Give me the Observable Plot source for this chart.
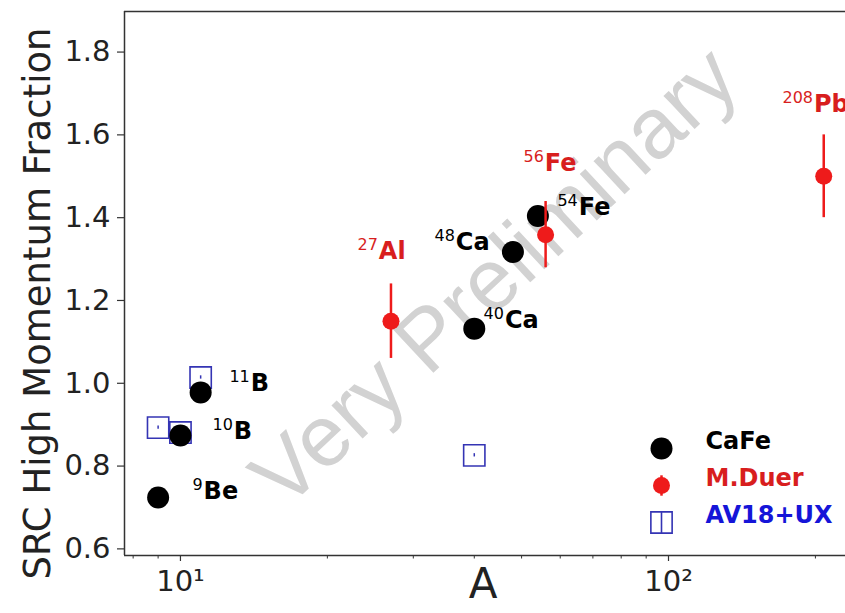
<!DOCTYPE html>
<html>
<head>
<meta charset="utf-8">
<script src="https://cdn.jsdelivr.net/npm/d3@7"></script>
<script src="https://cdn.jsdelivr.net/npm/@observablehq/plot@0.6"></script>
<style>
  html, body { margin: 0; padding: 0; background: #fff; overflow: hidden; }
  #chart svg { display: block; }
</style>
</head>
<body>
<div id="chart"></div>
<script>
// ---- data ----
const cafeA = [9, 10, 11, 40, 48, 54];
const cafeY = [0.724, 0.874, 0.978, 1.132, 1.317, 1.404];

const duerA = [27, 56, 208];
const duerY = [1.150, 1.359, 1.500];
const duerErr = [0.09, 0.08, 0.10];

const av18A = [9, 10, 11, 40];
const av18Y = [0.893, 0.881, 1.014, 0.826];
const av18Err = [0.004, 0.004, 0.004, 0.004];

const labelMass = ["9", "10", "11", "40", "48", "54", "27", "56", "208"];
const labelElem = ["Be", "B", "B", "Ca", "Ca", "Fe", "Al", "Fe", "Pb"];
const labelSeries = ["CaFe", "CaFe", "CaFe", "CaFe", "CaFe", "CaFe", "M.Duer", "M.Duer", "M.Duer"];
const labelA = [10.58, 11.63, 12.60, 41.8, 33.15, 59.2, 23.05, 50.45, 171.2];
const labelY = [0.7215, 0.8665, 0.9825, 1.1347, 1.3208, 1.4054, 1.299, 1.5117, 1.6543];

const xDomain = [7.68, 230.5];
const yDomain = [0.584, 1.898];
const yTicks = [0.6, 0.8, 1.0, 1.2, 1.4, 1.6, 1.8];
const xMajorTicks = [10, 100];
const xMajorLabels = ["10¹", "10²"];
const xMinorTicks = [8, 9, 20, 30, 40, 50, 60, 70, 80, 90, 200];

const legendNames = ["CaFe", "M.Duer", "AV18+UX"];
const yTitle = "SRC High Momentum Fraction";
const xTitle = "A";
const watermark = "Very Preliminary";

// ---- tables ----
const cafe = cafeA.map((a, i) => ({A: a, y: cafeY[i]}));
const duer = duerA.map((a, i) => ({A: a, y: duerY[i], err: duerErr[i]}));
const av18 = av18A.map((a, i) => ({A: a, y: av18Y[i], err: av18Err[i]}));
const labels = labelA.map((a, i) => ({A: a, y: labelY[i], text: labelMass[i] + "|" + labelElem[i], series: labelSeries[i]}));

const BLACK = "#000000", RED = "#ee1b1b", RED_TXT = "#d81e1e", BLUE = "#3434b4", BLUE_TXT = "#1515d8", AXIS = "#333333";
const vbar = {draw(ctx, size) { const h = Math.sqrt(size); ctx.moveTo(0, -h / 2); ctx.lineTo(0, h / 2); }};

const chart = Plot.plot({
  width: 845,
  height: 613,
  marginLeft: 124,
  marginRight: 0,
  marginTop: 11,
  marginBottom: 58,
  style: {fontFamily: "'DejaVu Sans', sans-serif", background: "#fff", overflow: "visible"},
  x: {type: "log", domain: xDomain},
  y: {domain: yDomain},
  marks: [
    // watermark
    Plot.text([watermark], {frameAnchor: "middle", textAnchor: "middle", text: d => d, rotate: -43, dx: 10, dy: -6,
      fontSize: 86, fill: "#d2d2d2", fontFamily: "'Liberation Sans', Arial, sans-serif"}),
    // spines
    Plot.ruleY([yDomain[1]], {stroke: AXIS, strokeWidth: 1.5}),
    Plot.ruleY([yDomain[0]], {stroke: AXIS, strokeWidth: 1.5}),
    Plot.ruleX([xDomain[0]], {stroke: AXIS, strokeWidth: 1.5}),
    // axes
    Plot.axisY({ticks: yTicks, tickFormat: d => d.toFixed(1), tickSize: 7, tickPadding: 7, fontSize: 29, label: null, stroke: AXIS, fill: "#222", strokeWidth: 1.2}),
    Plot.axisX({ticks: xMajorTicks, tickFormat: d => xMajorLabels[xMajorTicks.indexOf(d)], tickSize: 6, tickPadding: 9, fontSize: 29, label: null, stroke: AXIS, fill: "#222", strokeWidth: 1.2}),
    Plot.axisX({ticks: xMinorTicks, tickFormat: () => "", tickSize: 3.5, label: null, stroke: AXIS, strokeWidth: 1}),
    Plot.text([yTitle], {frameAnchor: "left", textAnchor: "middle", text: d => d, rotate: -90, dx: -86, dy: 20, fontSize: 37, fill: "#222"}),
    Plot.text([xTitle], {frameAnchor: "bottom", textAnchor: "middle", text: d => d, dx: -2, dy: 42, fontSize: 42, fill: "#222"}),
    // AV18+UX
    Plot.dot(av18, {x: "A", y: "y", symbol: "square", r: 12, stroke: BLUE, strokeWidth: 1.6, fill: "none"}),
    Plot.ruleX(av18, {x: "A", y1: d => d.y - d.err, y2: d => d.y + d.err, stroke: BLUE, strokeWidth: 1.5}),
    // CaFe
    Plot.dot(cafe, {x: "A", y: "y", r: 11, fill: BLACK}),
    // M.Duer
    Plot.ruleX(duer, {x: "A", y1: d => d.y - d.err, y2: d => d.y + d.err, stroke: RED, strokeWidth: 2.5}),
    Plot.dot(duer, {x: "A", y: "y", r: 8.5, fill: RED}),
    // nuclide labels
    Plot.text(labels, {filter: d => d.series === "CaFe", x: "A", y: "y", text: "text", textAnchor: "start", lineAnchor: "bottom",
      fontSize: 24, fontWeight: "bold", fill: BLACK}),
    Plot.text(labels, {filter: d => d.series === "M.Duer", x: "A", y: "y", text: "text", textAnchor: "start", lineAnchor: "bottom",
      fontSize: 24, fontWeight: "bold", fill: RED_TXT}),
    // legend
    Plot.dot([legendNames[0]], {frameAnchor: "bottom-right", dx: -184, dy: -107, r: 11, fill: BLACK}),
    Plot.dot([legendNames[1]], {frameAnchor: "bottom-right", dx: -184, dy: -70, symbol: vbar, r: 11.5, stroke: RED, strokeWidth: 2.5}),
    Plot.dot([legendNames[1]], {frameAnchor: "bottom-right", dx: -184, dy: -70, r: 8.5, fill: RED}),
    Plot.dot([legendNames[2]], {frameAnchor: "bottom-right", dx: -184, dy: -33, symbol: "square", r: 12, stroke: BLUE, strokeWidth: 1.6, fill: "none"}),
    Plot.dot([legendNames[2]], {frameAnchor: "bottom-right", dx: -184, dy: -33, symbol: vbar, r: 11.8, stroke: BLUE, strokeWidth: 1.6}),
    Plot.text([legendNames[0]], {frameAnchor: "bottom-right", text: d => d, dx: -140, dy: -107, textAnchor: "start", fontSize: 24, fontWeight: "bold", fill: BLACK}),
    Plot.text([legendNames[1]], {frameAnchor: "bottom-right", text: d => d, dx: -140, dy: -70, textAnchor: "start", fontSize: 24, fontWeight: "bold", fill: RED_TXT}),
    Plot.text([legendNames[2]], {frameAnchor: "bottom-right", text: d => d, dx: -140, dy: -33, textAnchor: "start", fontSize: 24, fontWeight: "bold", fill: BLUE_TXT})
  ]
});

document.getElementById("chart").appendChild(chart);

// superscript mass numbers on nuclide labels
d3.select(chart).selectAll("text").each(function() {
  if (this.querySelector("tspan")) return;
  const s = this.textContent;
  if (s.indexOf("|") < 0) return;
  const parts = s.split("|");
  const t = d3.select(this);
  t.text(null);
  t.append("tspan").attr("font-size", 16).attr("font-weight", "normal").attr("dy", -9).text(parts[0]);
  t.append("tspan").attr("dy", 9).attr("dx", 1).text(parts[1]);
});
</script>
</body>
</html>
